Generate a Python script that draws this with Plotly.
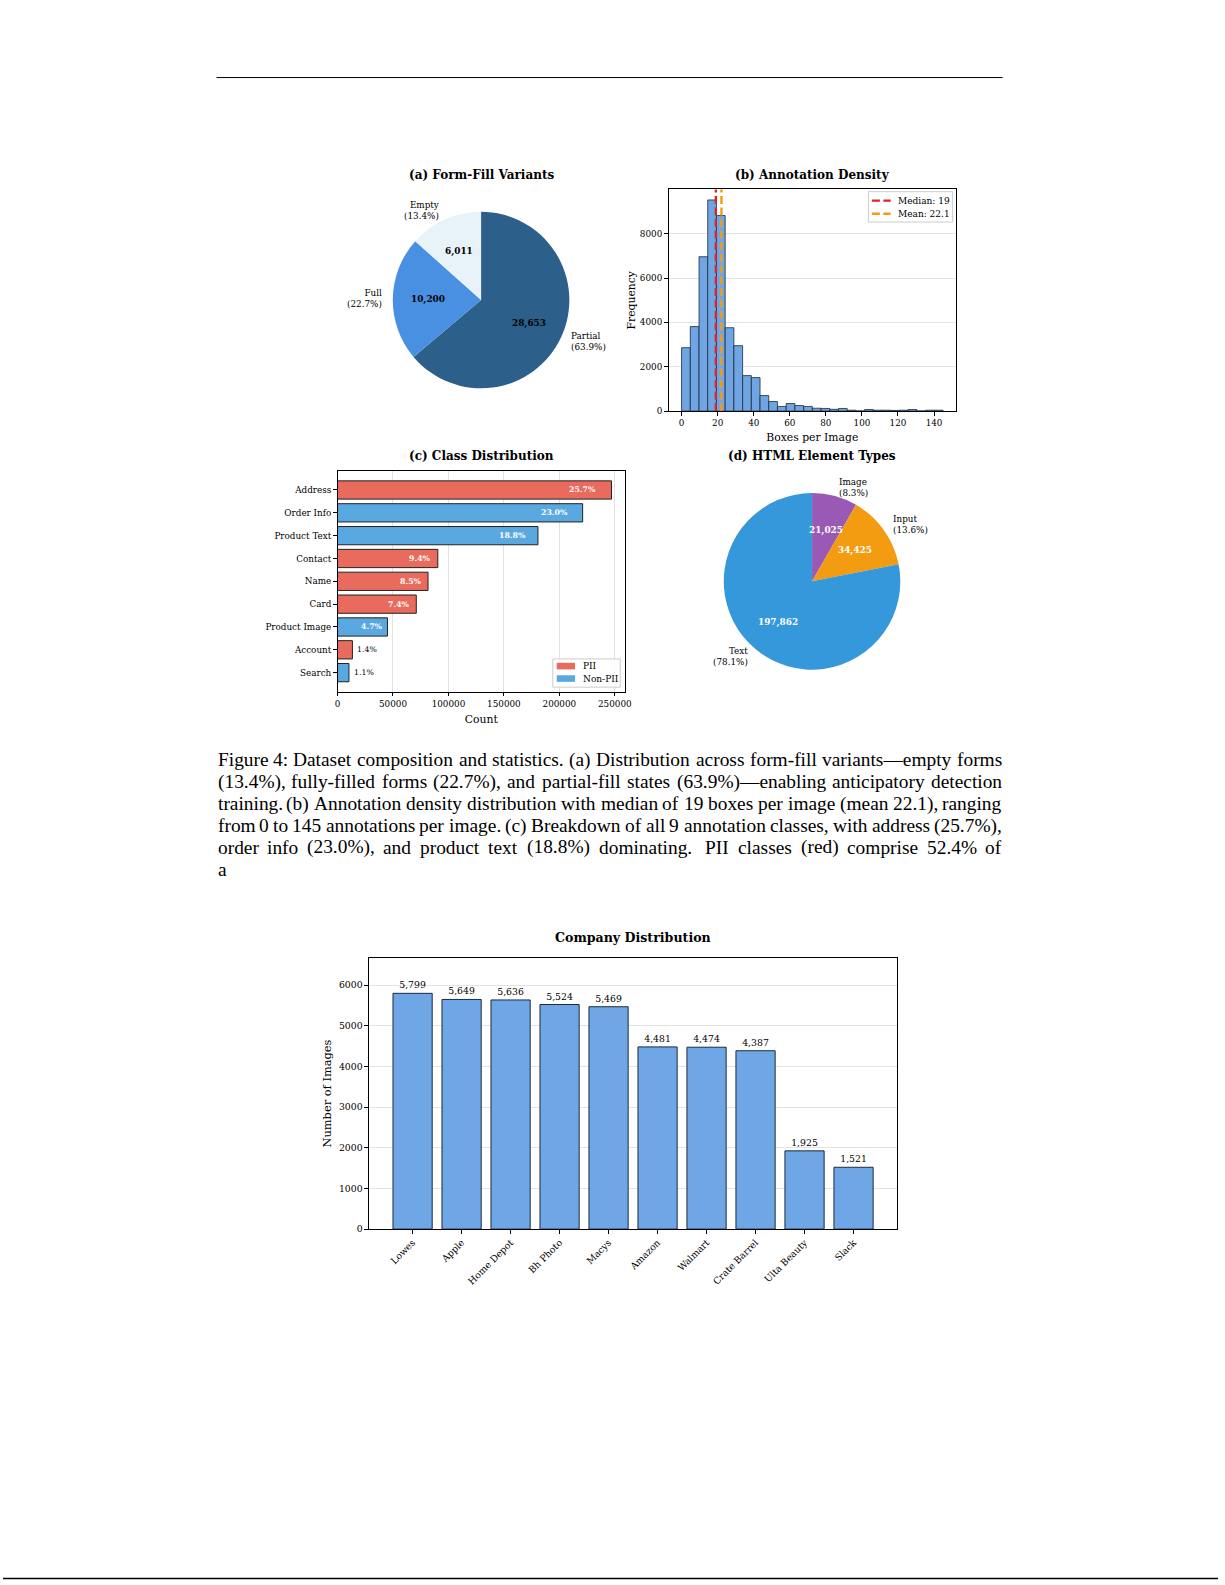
import math
import numpy as np
import plotly.graph_objects as go

W, H = 1225, 1585

# ---------------- data ----------------
# (a) Form-fill variants
fill_labels = ["Empty", "Full", "Partial"]
fill_counts = [6011, 10200, 28653]
fill_colors = ["#e8f2f9", "#4a90e2", "#2d5f8b"]

# (b) Annotation density histogram (30 bins over 0..145)
hist_min, hist_max = 0, 145
hist_counts = [2860, 3810, 6960, 9520, 8820, 3760, 2950, 1600, 1510, 700,
               430, 210, 340, 250, 210, 130, 120, 80, 120, 40,
               10, 70, 40, 40, 30, 40, 70, 10, 40, 40]
median_boxes = 19
mean_boxes = 22.1

# (c) Class distribution
class_names = ["Address", "Order Info", "Product Text", "Contact", "Name",
               "Card", "Product Image", "Account", "Search"]
class_counts = [247000, 221000, 180700, 90400, 81600, 71000, 45000, 13400, 10300]
class_is_pii = [True, False, False, True, True, True, False, True, False]

# (d) HTML element types
elem_labels = ["Image", "Input", "Text"]
elem_counts = [21025, 34425, 197862]
elem_colors = ["#9b59b6", "#f39c12", "#3498db"]

# Company distribution
companies = ["Lowes", "Apple", "Home Depot", "Bh Photo", "Macys", "Amazon",
             "Walmart", "Crate Barrel", "Ulta Beauty", "Slack"]
company_counts = [5799, 5649, 5636, 5524, 5469, 4481, 4474, 4387, 1925, 1521]

caption_lines = [
    "Figure 4: Dataset composition and statistics. (a) Distribution across form-fill variants\u2014empty forms",
    "(13.4%), fully-filled forms (22.7%), and partial-fill states (63.9%)\u2014enabling anticipatory detection",
    "training. (b) Annotation density distribution with median of 19 boxes per image (mean 22.1), ranging",
    "from 0 to 145 annotations per image. (c) Breakdown of all 9 annotation classes, with address (25.7%),",
    "order info (23.0%), and product text (18.8%) dominating.  PII classes (red) comprise 52.4% of",
    "a",
]
caption_justified = [True, True, True, True, True, False]

# ---------------- helpers ----------------
SERIF = "DejaVu Serif"
CAP_FONT = "Liberation Serif"
CAP_SIZE = 19.4

def px_x(x):
    return x / W
def px_y(y):
    return 1 - y / H

annotations = []
shapes = []

def pie_labels(cx, cy, r, labels, counts, clockwise, value_color):
    total = float(sum(counts))
    start = 90.0
    for lab, v in zip(labels, counts):
        frac = v / total
        span = 360.0 * frac
        end = start - span if clockwise else start + span
        mid = math.radians((start + end) / 2)
        start = end
        c, s = math.cos(mid), math.sin(mid)
        annotations.append(dict(
            x=px_x(cx + 0.6 * r * c), y=px_y(cy - 0.6 * r * s), xref="paper", yref="paper",
            text="<b>%s</b>" % format(v, ","), showarrow=False,
            font=dict(family=SERIF, size=8.9, color=value_color),
            xanchor="center", yanchor="middle"))
        side = "left" if c >= 0 else "right"
        annotations.append(dict(
            x=px_x(cx + 1.1 * r * c), y=px_y(cy - 1.1 * r * s), xref="paper", yref="paper",
            text="%s<br>(%.1f%%)" % (lab, 100 * frac), showarrow=False, align=side,
            font=dict(family=SERIF, size=8.8, color="black"),
            xanchor=side, yanchor="middle"))

def title(text, cx, cy, size):
    annotations.append(dict(x=px_x(cx), y=px_y(cy), xref="paper", yref="paper",
                            text="<b>%s</b>" % text, showarrow=False,
                            font=dict(family=SERIF, size=size, color="black"),
                            xanchor="center", yanchor="middle"))

def label(text, x, y, size=9, anchor="left", color="black"):
    annotations.append(dict(x=px_x(x), y=px_y(y), xref="paper", yref="paper", text=text,
                            showarrow=False, font=dict(family=SERIF, size=size, color=color),
                            xanchor=anchor, yanchor="middle"))

# Times-Roman (= Liberation Serif) advance widths, 1/1000 em
TIMES_W = {" ": 250, "(": 333, ")": 333, "%": 833, ",": 250, "-": 333, ".": 250, ":": 278,
           "\u2014": 1000, "0": 500, "1": 500, "2": 500, "3": 500, "4": 500, "5": 500,
           "6": 500, "7": 500, "8": 500, "9": 500,
           "A": 722, "B": 667, "C": 667, "D": 722, "E": 611, "F": 556, "G": 722, "H": 722,
           "I": 333, "J": 389, "K": 722, "L": 611, "M": 889, "N": 722, "O": 722, "P": 556,
           "Q": 722, "R": 667, "S": 556, "T": 611, "U": 722, "V": 722, "W": 944, "X": 722,
           "Y": 722, "Z": 611,
           "a": 444, "b": 500, "c": 444, "d": 500, "e": 444, "f": 333, "g": 500, "h": 500,
           "i": 278, "j": 278, "k": 500, "l": 278, "m": 778, "n": 500, "o": 500, "p": 500,
           "q": 500, "r": 333, "s": 389, "t": 278, "u": 500, "v": 500, "w": 722, "x": 500,
           "y": 500, "z": 444}
RENDER_FACTOR = 1.01  # browser renders slightly wider than the AFM advances

def word_px(w):
    return sum(TIMES_W.get(ch, 500) for ch in w) * CAP_SIZE / 1000.0 * RENDER_FACTOR

def caption_line(line, y, x0, x1, justify):
    font = dict(family=CAP_FONT, size=CAP_SIZE, color="black")
    if not justify:
        annotations.append(dict(x=px_x(x0), y=px_y(y), xref="paper", yref="paper", text=line,
                                showarrow=False, font=font, xanchor="left", yanchor="middle",
                                borderpad=0))
        return
    parts = line.split(" ")
    words, weights = [], []
    pending = 0
    for p in parts:
        if p == "":
            pending += 1
            continue
        if words:
            weights.append(1 + 0.5 * pending)
        words.append(p)
        pending = 0
    total = sum(word_px(w) for w in words)
    gap = (x1 - x0 - total) / sum(weights)
    x = x0
    for i, w in enumerate(words):
        wp = word_px(w)
        if i == 0:
            ax, anchor = x0, "left"
        elif i == len(words) - 1:
            ax, anchor = x1, "right"
        else:
            ax, anchor = x + wp / 2, "center"
        annotations.append(dict(x=px_x(ax), y=px_y(y), xref="paper", yref="paper",
                                text=w, showarrow=False, font=font, borderpad=0,
                                xanchor=anchor, yanchor="middle"))
        if i < len(weights):
            x += wp + gap * weights[i]

fig = go.Figure()

# ---------------- (a) pie ----------------
# matplotlib-style counter-clockwise from 12 o'clock == clockwise with reversed order
a_cx, a_cy, a_r = 482, 301, 89
fig.add_trace(go.Pie(
    labels=fill_labels[::-1], values=fill_counts[::-1], sort=False, direction="clockwise",
    rotation=0, textinfo="none", hoverinfo="label+value",
    marker=dict(colors=fill_colors[::-1], line=dict(width=0)),
    domain=dict(x=[px_x(a_cx - a_r), px_x(a_cx + a_r)], y=[px_y(a_cy + a_r), px_y(a_cy - a_r)]),
    showlegend=False))
pie_labels(a_cx, a_cy, a_r, fill_labels, fill_counts, False, "black")
title("(a) Form-Fill Variants", 482, 175.5, 12)

# ---------------- (b) histogram ----------------
edges = np.linspace(hist_min, hist_max, len(hist_counts) + 1)
bw = edges[1] - edges[0]
centers = edges[:-1] + bw / 2
fig.add_trace(go.Bar(
    x=centers, y=hist_counts, width=bw, xaxis="x", yaxis="y",
    marker=dict(color="#6fa5e3", line=dict(color="#1a2b3c", width=0.8)),
    showlegend=False, hoverinfo="x+y"))
ref_lines = [("Median: %d" % median_boxes, median_boxes, "#d62728"),
             ("Mean: %.1f" % mean_boxes, mean_boxes, "#f39c12")]
for nm, xv, col in ref_lines:
    shapes.append(dict(type="line", xref="x", yref="y domain", x0=xv, x1=xv, y0=0, y1=1,
                       line=dict(color=col, width=2.4, dash="8px,3.5px")))
# legend box (b)
shapes.append(dict(type="rect", xref="paper", yref="paper", layer="above",
                   x0=px_x(872.5), x1=px_x(957.5), y0=px_y(222.7), y1=px_y(192.3),
                   line=dict(color="#cccccc", width=1), fillcolor="rgba(255,255,255,0.85)"))
for k, (nm, xv, col) in enumerate(ref_lines):
    ry = 201.3 + 13.2 * k
    shapes.append(dict(type="line", xref="paper", yref="paper", layer="above",
                       x0=px_x(876), x1=px_x(895), y0=px_y(ry), y1=px_y(ry),
                       line=dict(color=col, width=2.4, dash="8px,3.5px")))
    label(nm, 900, ry, 9)
title("(b) Annotation Density", 816, 175.5, 12)

# ---------------- (c) class distribution ----------------
total_cls = float(sum(class_counts))
max_cls = max(class_counts)
groups = [(True, "PII", "#e96b5d"), (False, "Non-PII", "#5aa8e0")]
for pii_flag, nm, col in groups:
    ys = [n for n, p in zip(class_names, class_is_pii) if p == pii_flag]
    xs = [v for v, p in zip(class_counts, class_is_pii) if p == pii_flag]
    fig.add_trace(go.Bar(
        x=xs, y=ys, orientation="h", width=0.8, xaxis="x2", yaxis="y2", name=nm,
        marker=dict(color=col, line=dict(color="#222222", width=1)),
        showlegend=False, hoverinfo="x+y"))
for n, v in zip(class_names, class_counts):
    pct = 100 * v / total_cls
    if pct > 3:
        annotations.append(dict(x=0.95 * v, y=n, xref="x2", yref="y2",
                                text="<b>%.1f%%</b>" % pct, showarrow=False,
                                font=dict(family=SERIF, size=7.8, color="white"),
                                xanchor="right", yanchor="middle"))
    else:
        annotations.append(dict(x=v + 0.01 * max_cls, y=n, xref="x2", yref="y2",
                                text="%.1f%%" % pct, showarrow=False,
                                font=dict(family=SERIF, size=7.8, color="black"),
                                xanchor="left", yanchor="middle"))
# legend box (c)
shapes.append(dict(type="rect", xref="paper", yref="paper", layer="above",
                   x0=px_x(554.3), x1=px_x(622.3), y0=px_y(689.3), y1=px_y(661),
                   line=dict(color="#cccccc", width=1), fillcolor="rgba(255,255,255,0.85)"))
for k, (pii_flag, nm, col) in enumerate(groups):
    ry = 668.2 + 12.5 * k
    shapes.append(dict(type="rect", xref="paper", yref="paper", layer="above",
                       x0=px_x(558.3), x1=px_x(576.7), y0=px_y(ry + 3.3), y1=px_y(ry - 3.3),
                       line=dict(width=0), fillcolor=col))
    label(nm, 582.5, ry, 9)
title("(c) Class Distribution", 482, 457.3, 12)

# ---------------- (d) pie ----------------
d_cx, d_cy, d_r = 815.7, 583.2, 89
fig.add_trace(go.Pie(
    labels=elem_labels, values=elem_counts, sort=False, direction="clockwise",
    rotation=0, textinfo="none", hoverinfo="label+value",
    marker=dict(colors=elem_colors, line=dict(width=0)),
    domain=dict(x=[px_x(d_cx - d_r), px_x(d_cx + d_r)], y=[px_y(d_cy + d_r), px_y(d_cy - d_r)]),
    showlegend=False))
pie_labels(d_cx, d_cy, d_r, elem_labels, elem_counts, True, "white")
title("(d) HTML Element Types", 816, 457.3, 12)

# ---------------- company distribution ----------------
fig.add_trace(go.Bar(
    x=companies, y=company_counts, width=0.8, xaxis="x3", yaxis="y3",
    marker=dict(color="#6ea6e6", line=dict(color="#1a2b3c", width=1)),
    text=[format(v, ",") for v in company_counts], textposition="outside",
    textfont=dict(family=SERIF, size=9.3, color="black"), cliponaxis=False,
    showlegend=False, hoverinfo="x+y"))
title("Company Distribution", 634.8, 940, 12.6)

# ---------------- caption & page lines ----------------
for i, (line, just) in enumerate(zip(caption_lines, caption_justified)):
    caption_line(line, 762 + 22.04 * i, 215.3, 1007.8, just)
shapes.append(dict(type="line", xref="paper", yref="paper", x0=px_x(215.3), x1=px_x(1007.8),
                   y0=px_y(77.8), y1=px_y(77.8), line=dict(color="black", width=1)))
shapes.append(dict(type="line", xref="paper", yref="paper", x0=0, x1=1,
                   y0=px_y(1583.5), y1=px_y(1583.5), line=dict(color="black", width=1.5)))

# ---------------- axes ----------------
grid = "rgba(176,176,176,0.35)"
def axis(**kw):
    base = dict(showline=True, linecolor="black", linewidth=1, mirror=True,
                ticks="outside", ticklen=3.5, tickwidth=0.8, tickcolor="black",
                tickfont=dict(family=SERIF, size=8.8, color="black"),
                zeroline=False, showgrid=False)
    base.update(kw)
    return base

fig.update_layout(
    width=W, height=H, autosize=False,
    margin=dict(l=0, r=0, t=0, b=0),
    paper_bgcolor="white", plot_bgcolor="white",
    font=dict(family=SERIF, color="black"),
    barmode="overlay", showlegend=False,
    # (b)
    xaxis=axis(domain=[px_x(671), px_x(961)], anchor="y", range=[-7.25, 152.25],
               tick0=0, dtick=20,
               title=dict(text="Boxes per Image", font=dict(family=SERIF, size=10.8), standoff=6)),
    yaxis=axis(domain=[px_y(412.4), px_y(190)], anchor="x", range=[0, 9996],
               tick0=0, dtick=2000, tickformat="d", showgrid=True, gridcolor=grid, gridwidth=0.8,
               title=dict(text="Frequency", font=dict(family=SERIF, size=10.8), standoff=2)),
    # (c)
    xaxis2=axis(domain=[px_x(337.3), px_x(627.3)], anchor="y2", range=[0, 1.05 * max_cls],
                tick0=0, dtick=50000, tickformat="d", showgrid=True, gridcolor=grid, gridwidth=0.8,
                title=dict(text="Count", font=dict(family=SERIF, size=10.8), standoff=7)),
    yaxis2=axis(domain=[px_y(694), px_y(472.3)], anchor="x2", type="category",
                categoryorder="array", categoryarray=list(reversed(class_names)),
                range=[-0.84, len(class_names) - 1 + 0.84]),
    # company
    xaxis3=axis(domain=[px_x(369), px_x(901.5)], anchor="y3", type="category",
                range=[-0.89, len(companies) - 1 + 0.89], tickangle=-45,
                tickfont=dict(family=SERIF, size=9.3, color="black")),
    yaxis3=axis(domain=[px_y(1233), px_y(961)], anchor="x3", range=[0, 1.15 * max(company_counts)],
                tick0=0, dtick=1000, tickformat="d", showgrid=True, gridcolor=grid, gridwidth=0.8,
                tickfont=dict(family=SERIF, size=9.3, color="black"),
                title=dict(text="Number of Images", font=dict(family=SERIF, size=11.4), standoff=4)),
    annotations=annotations,
    shapes=shapes,
)

fig.write_html("out.html", config={"displayModeBar": False},
               post_script="document.body.style.margin='0px';")
